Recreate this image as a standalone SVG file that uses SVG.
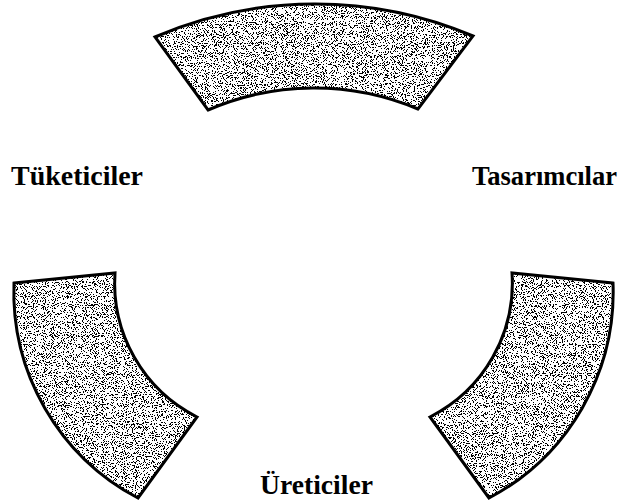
<svg xmlns="http://www.w3.org/2000/svg" width="625" height="504" viewBox="0 0 625 504">
  <style>
    .label { font-family: "Liberation Serif", "Times New Roman", serif; font-size: 27px; font-weight: bold; fill: #000; }
    .base { fill: #ffffff; stroke: none; }
    .speckle { fill: #1a1a1a; stroke: none; filter: url(#stipple); }
    .edge { fill: none; stroke: #000; stroke-width: 3; stroke-linejoin: miter; }
  </style>
  <defs>
    <filter id="stipple" x="0" y="0" width="1" height="1" color-interpolation-filters="sRGB">
      <feTurbulence type="fractalNoise" baseFrequency="0.9" numOctaves="2" seed="7" result="noise"/>
      <feColorMatrix in="noise" type="matrix" values="0 0 0 0 0  0 0 0 0 0  0 0 0 0 0  2.2 0 0 0 -0.78" result="a"/>
      <feComponentTransfer in="a" result="dots">
        <feFuncA type="discrete" tableValues="0 1"/>
      </feComponentTransfer>
      <feComposite in="dots" in2="SourceGraphic" operator="in"/>
    </filter>
    <path id="arc-top" d="M155,37 A405,405 0 0 1 473,36 L418,109 A267,267 0 0 0 208,110 Z"/>
    <path id="arc-left" d="M14,283 L115,273 A150,150 0 0 0 197,417 L138,498 A233,233 0 0 1 14,283 Z"/>
    <path id="arc-right" d="M613,283 L512,273 A150,150 0 0 1 430,417 L489,498 A233,233 0 0 0 613,283 Z"/>
  </defs>

  <g id="connectors">
    <g id="arc-tuketiciler-tasarimcilar">
      <use href="#arc-top" class="base"/>
      <use href="#arc-top" class="speckle"/>
      <use href="#arc-top" class="edge"/>
    </g>
    <g id="arc-tuketiciler-ureticiler">
      <use href="#arc-left" class="base"/>
      <use href="#arc-left" class="speckle"/>
      <use href="#arc-left" class="edge"/>
    </g>
    <g id="arc-tasarimcilar-ureticiler">
      <use href="#arc-right" class="base"/>
      <use href="#arc-right" class="speckle"/>
      <use href="#arc-right" class="edge"/>
    </g>
  </g>

  <g id="node-tuketiciler">
    <text class="label" x="11" y="185" textLength="132" lengthAdjust="spacingAndGlyphs">Tüketiciler</text>
  </g>
  <g id="node-tasarimcilar">
    <text class="label" x="472" y="185" textLength="145" lengthAdjust="spacingAndGlyphs">Tasarımcılar</text>
  </g>
  <g id="node-ureticiler">
    <text class="label" x="260" y="494" textLength="113" lengthAdjust="spacingAndGlyphs">Üreticiler</text>
  </g>
</svg>
